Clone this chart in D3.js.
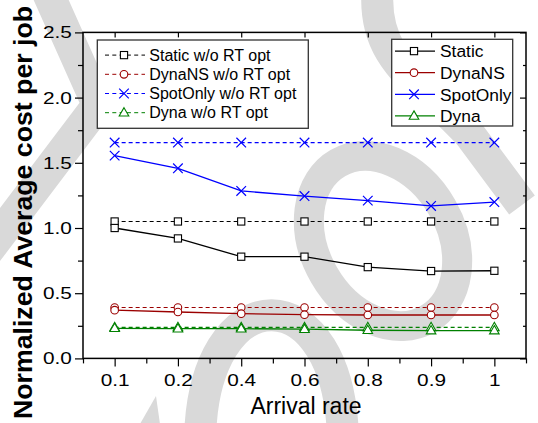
<!DOCTYPE html>
<html><head><meta charset="utf-8">
<script src="https://cdn.jsdelivr.net/npm/d3@7"></script>
<style>
html,body{margin:0;padding:0;background:#fff;}
svg{display:block;font-family:"Liberation Sans",Arial,sans-serif;}
</style></head>
<body><svg id="chart" width="538" height="423"></svg>
<script>
// ---- data ----
const categories = ["0.1","0.2","0.4","0.6","0.8","0.9","1"];
const staticWo   = [1.05,1.05,1.05,1.05,1.05,1.05,1.05];
const dynaNSWo   = [0.39,0.39,0.39,0.39,0.39,0.39,0.39];
const spotOnlyWo = [1.655,1.655,1.655,1.655,1.655,1.655,1.655];
const dynaWo     = [0.238,0.238,0.238,0.238,0.238,0.238,0.238];
const staticOpt  = [1.00,0.92,0.78,0.78,0.70,0.67,0.672];
const dynaNS     = [0.37,0.356,0.343,0.335,0.333,0.333,0.333];
const spotOnly   = [1.555,1.458,1.284,1.245,1.21,1.169,1.199];
const dyna       = [0.231,0.228,0.228,0.224,0.216,0.213,0.213];
const yTicks = [0,0.5,1.0,1.5,2.0,2.5];
const yMinorTicks = [0.25,0.75,1.25,1.75,2.25];
const legendLeftLabels = ["Static w/o RT opt","DynaNS w/o RT opt","SpotOnly w/o RT opt","Dyna w/o RT opt"];
const legendRightLabels = ["Static","DynaNS","SpotOnly","Dyna"];
const xTitle = "Arrival rate";
const yTitle = "Normalized Average cost per job";

const BLACK="#000000", RED="#9b0000", BLUE="#0000ff", GREEN="#008000";
const seriesWo = [
  {values: staticWo,   color: BLACK, sym: "square"},
  {values: dynaNSWo,   color: RED,   sym: "circle"},
  {values: spotOnlyWo, color: BLUE,  sym: "cross"},
  {values: dynaWo,     color: GREEN, sym: "triangle"}
];
const seriesOpt = [
  {values: staticOpt, color: BLACK, sym: "square"},
  {values: dynaNS,    color: RED,   sym: "circle"},
  {values: spotOnly,  color: BLUE,  sym: "cross"},
  {values: dyna,      color: GREEN, sym: "triangle"}
];

const svg = d3.select("#chart");
const L=83, R=526, T=32.4, B=358.4;
const x = d3.scalePoint().domain(categories).range([L,R]).padding(0.5);
const y = d3.scaleLinear().domain([0,2.5]).range([B,T]);

// ---- background watermark ----
const wm = svg.append("g").attr("fill","none").attr("stroke","#d9d9d9").attr("stroke-width",32);
wm.append("path").attr("d","M40,-25 L98,105 L-20,261").attr("stroke-linejoin","miter");
wm.append("path").attr("d","M200,445 C200,272 343,272 343,445");
wm.append("path").attr("d","M378,-15 C370,60 420,80 470,135 L522,205");
wm.append("ellipse").attr("cx",0).attr("cy",0).attr("rx",68).attr("ry",90)
  .attr("stroke-width",30).attr("transform","translate(383,241) rotate(-30)");
svg.append("path").attr("d","M140,424 L156,396 L160,424 Z").attr("fill","#d9d9d9");

// ---- symbols ----
function drawMarker(g, sym, cx, cy, color){
  if(sym==="square"){
    g.append("rect").attr("x",cx-3.6).attr("y",cy-3.6).attr("width",7.2).attr("height",7.2)
      .attr("fill","#fff").attr("stroke",color).attr("stroke-width",1.1);
  } else if(sym==="circle"){
    g.append("circle").attr("cx",cx).attr("cy",cy).attr("r",3.8)
      .attr("fill","#fff").attr("stroke",color).attr("stroke-width",1.1);
  } else if(sym==="cross"){
    g.append("path").attr("d",`M${cx-4.8},${cy-4.8}L${cx+4.8},${cy+4.8}M${cx-4.8},${cy+4.8}L${cx+4.8},${cy-4.8}`)
      .attr("stroke",color).attr("stroke-width",1.2).attr("fill","none");
  } else {
    g.append("path").attr("d",d3.symbol().type(d3.symbolTriangle).size(40)())
      .attr("transform",`translate(${cx},${cy+0.5})`)
      .attr("fill","#fff").attr("stroke",color).attr("stroke-width",1.1);
  }
}

// ---- axes ----
const axG = svg.append("g").attr("stroke-width",1.2);
const left = axG.append("g").attr("transform",`translate(${L},0)`)
  .call(d3.axisLeft(y).tickValues(yTicks).tickSize(8).tickFormat(d3.format(".1f")));
left.selectAll("text").attr("x",-8.6).attr("dy","0.34em")
  .attr("transform","scale(1.3,1)").style("font-size","16px").attr("fill","#000");
axG.append("g").attr("transform",`translate(${L},0)`)
  .call(d3.axisLeft(y).tickValues(yMinorTicks).tickSize(5).tickFormat(""));
axG.append("g").attr("transform",`translate(${R},0)`)
  .call(d3.axisRight(y).tickValues(yTicks).tickSize(-6).tickFormat(""));
axG.append("g").attr("transform",`translate(${R},0)`)
  .call(d3.axisRight(y).tickValues(yMinorTicks).tickSize(-3).tickFormat(""));
const bottom = axG.append("g").attr("transform",`translate(0,${B})`)
  .call(d3.axisBottom(x).tickSize(8));
bottom.selectAll("text").attr("y",27.3).attr("dy",0)
  .attr("transform","scale(1.3,1)").style("font-size","16px").attr("fill","#000");
const step = x.step();
const xMinor = d3.range(categories.length+1).map(i => x(categories[0]) - step/2 + i*step);
axG.append("g").attr("transform",`translate(0,${B})`)
  .call(d3.axisBottom(d3.scaleIdentity()).tickValues(xMinor).tickSize(5).tickFormat(""));
axG.append("g").attr("transform",`translate(0,${T})`)
  .call(d3.axisTop(x).tickSize(-5).tickFormat(""));
axG.selectAll(".domain").remove();
axG.selectAll(".tick line").attr("stroke","#000");
svg.append("rect").attr("x",L).attr("y",T).attr("width",R-L).attr("height",B-T)
  .attr("fill","none").attr("stroke","#000").attr("stroke-width",1.5);

// ---- lines ----
const line = d3.line().x((d,i)=>x(categories[i])).y(d=>y(d));
const linesG = svg.append("g").attr("fill","none");
seriesWo.forEach(s=>{
  linesG.append("path").attr("d",line(s.values)).attr("stroke",s.color)
    .attr("stroke-width",1.1).attr("stroke-dasharray","4,3");
});
seriesOpt.forEach(s=>{
  linesG.append("path").attr("d",line(s.values)).attr("stroke",s.color).attr("stroke-width",1.3);
});
const mG = svg.append("g");
seriesWo.concat(seriesOpt).forEach(s=>{
  s.values.forEach((v,i)=>drawMarker(mG, s.sym, x(categories[i]), y(v), s.color));
});

// ---- legends ----
const lg1 = svg.append("g");
lg1.append("rect").attr("x",97.3).attr("y",40).attr("width",211).attr("height",88.3)
  .attr("fill","#fff").attr("stroke","#333").attr("stroke-width",1.3);
legendLeftLabels.forEach((t,i)=>{
  const by = 60.7 + i*19.2, cy = by-5.6;
  lg1.append("line").attr("x1",105).attr("x2",145).attr("y1",cy).attr("y2",cy)
    .attr("stroke",seriesWo[i].color).attr("stroke-width",1).attr("stroke-dasharray","4,3.3");
  drawMarker(lg1, seriesWo[i].sym, 124, cy, seriesWo[i].color);
  lg1.append("text").attr("x",149.3).attr("y",by).style("font-size","16px").text(t);
});
const lg2 = svg.append("g");
lg2.append("rect").attr("x",391.7).attr("y",39.3).attr("width",121).attr("height",86.7)
  .attr("fill","#fff").attr("stroke","#333").attr("stroke-width",1.3);
legendRightLabels.forEach((t,i)=>{
  const by = 57.3 + i*21.6, cy = by-6.2;
  lg2.append("line").attr("x1",395).attr("x2",435).attr("y1",cy).attr("y2",cy)
    .attr("stroke",seriesOpt[i].color).attr("stroke-width",1.3);
  drawMarker(lg2, seriesOpt[i].sym, 414, cy, seriesOpt[i].color);
  lg2.append("text").attr("x",440).attr("y",by).style("font-size","17.4px").text(t);
});

// ---- titles ----
svg.append("text").attr("x",306).attr("y",414.3).attr("text-anchor","middle")
  .style("font-size","23px").text(xTitle);
svg.append("text").attr("transform","translate(31.7,212.5) rotate(-90)")
  .attr("text-anchor","middle").style("font-size","25px").style("font-weight","bold")
  .attr("textLength",413).attr("lengthAdjust","spacingAndGlyphs").text(yTitle);
</script></body></html>
